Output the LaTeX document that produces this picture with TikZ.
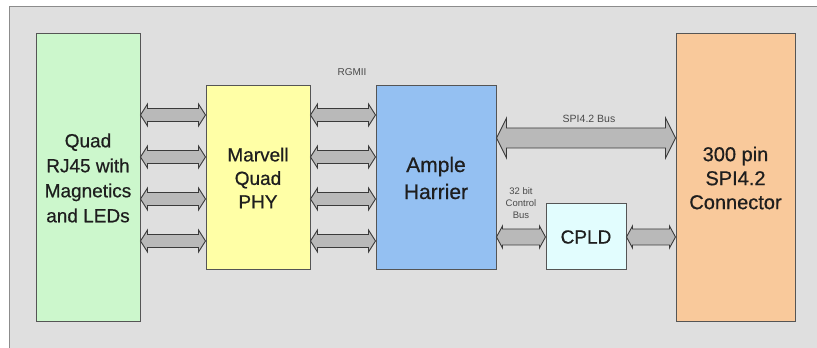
\documentclass[tikz,border=0pt]{standalone}
\usepackage{fontspec}
\setmainfont{Liberation Sans}
\newfontfamily\heavyfont[FakeBold=0.6]{Liberation Sans}
\usetikzlibrary{calc}
\definecolor{bgc}{HTML}{DFDFDF}
\definecolor{framec}{HTML}{8C8C8C}
\definecolor{greenc}{HTML}{CCF7CC}
\definecolor{yellowc}{HTML}{FFFFA6}
\definecolor{bluec}{HTML}{94C0F2}
\definecolor{orangec}{HTML}{F9C99B}
\definecolor{cpldc}{HTML}{E2FDFE}
\definecolor{edgec}{HTML}{555555}
\definecolor{busc}{HTML}{B9B9B9}
\definecolor{busedge}{HTML}{3A3A3A}
\definecolor{txtc}{HTML}{1E1E1E}
\definecolor{smallc}{HTML}{4A4A4A}
\newcommand{\busarr}[5]{%
  \draw[busline] (#1) -- ($(#1)+(#5,#4)$) -- ($(#1)+(#5,#3)$) -- ($(#2)+(-#5,#3)$)
    -- ($(#2)+(-#5,#4)$) -- (#2) -- ($(#2)+(-#5,-#4)$) -- ($(#2)+(-#5,-#3)$)
    -- ($(#1)+(#5,-#3)$) -- ($(#1)+(#5,-#4)$) -- cycle;}
\begin{document}
\begin{tikzpicture}[x=1pt,y=1pt,
  block/.style={draw=edgec, line width=1pt, inner sep=0pt, align=center, text=txtc},
  busline/.style={fill=busc, draw=busedge, line width=0.9pt, line join=miter},
  small/.style={text=smallc, align=center, inner sep=0pt}]
\useasboundingbox (0,0) rectangle (817,348);
\clip (0,0) rectangle (817,348);
\fill[white] (0,0) rectangle (817,348);
\draw[framec, fill=bgc, line width=1pt] (9,-10) rectangle (830,341);
% blocks
\node[block, fill=greenc, minimum width=104pt, minimum height=288pt,
  font=\heavyfont\fontsize{19}{25}\selectfont] (g) at (88,170) {Quad\\RJ45 with\\Magnetics\\and LEDs};
\node[block, fill=yellowc, minimum width=104pt, minimum height=184pt,
  font=\heavyfont\fontsize{19}{23.5}\selectfont] (y) at (258,170) {Marvell\\Quad\\PHY};
\node[block, fill=bluec, minimum width=120pt, minimum height=184pt,
  font=\heavyfont\fontsize{21}{27}\selectfont] (b) at (436,170) {Ample\\Harrier};
\node[block, fill=orangec, minimum width=119pt, minimum height=288pt,
  font=\heavyfont\fontsize{20}{24}\selectfont] (o) at (735.5,170) {300 pin\\SPI4.2\\Connector};
\node[block, fill=cpldc, minimum width=80pt, minimum height=66pt,
  font=\heavyfont\fontsize{19}{23}\selectfont] (c) at (586,111) {CPLD};
% bus connectors
\foreach \dy [count=\i] in {63,21,-21,-63}{
  \coordinate (ga\i) at ($(g.east)+(0,\dy)$);
  \coordinate (ya\i) at ($(y.west)+(0,\dy)$);
  \coordinate (yb\i) at ($(y.east)+(0,\dy)$);
  \coordinate (ba\i) at ($(b.west)+(0,\dy)$);
  \busarr{ga\i}{ya\i}{6.5}{11}{7}
  \busarr{yb\i}{ba\i}{6.5}{11}{7}
}
\coordinate (bs) at ($(b.east)+(0,40)$);
\coordinate (os) at ($(o.west)+(0,40)$);
\busarr{bs}{os}{10}{20}{10}
\coordinate (bc) at (b.east |- c.west);
\busarr{bc}{c.west}{8}{11}{6}
\coordinate (oc) at (o.west |- c.east);
\busarr{c.east}{oc}{8}{11}{6}
% labels
\node[small, font=\fontsize{10}{12}\selectfont] (lr) at (352,276) {RGMII};
\node[small, font=\fontsize{10.5}{12}\selectfont] (ls) at (589,229) {SPI4.2 Bus};
\node[small, font=\fontsize{9.5}{12}\selectfont] (lc) at (521,145) {32 bit\\Control\\Bus};
\end{tikzpicture}
\end{document}
